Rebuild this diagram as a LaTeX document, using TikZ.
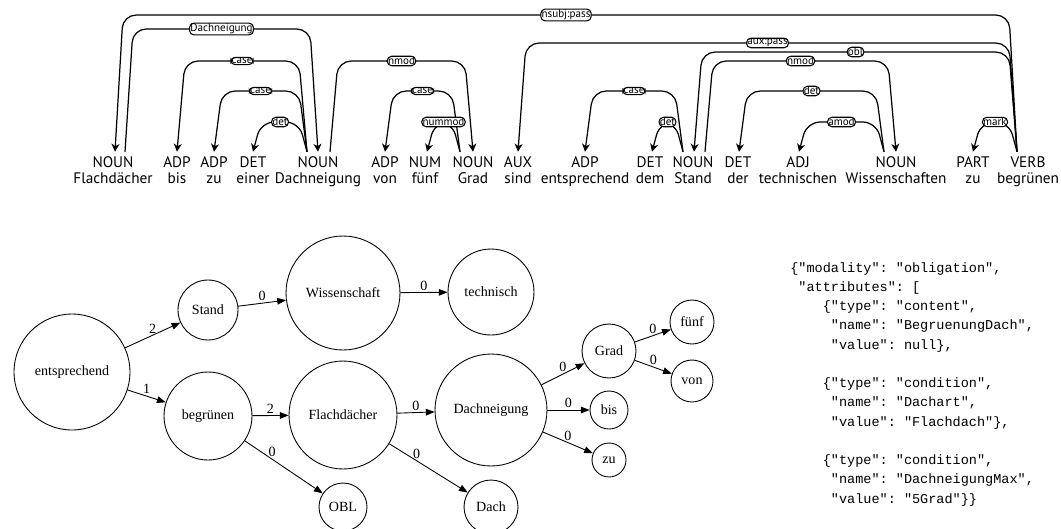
\documentclass[tikz,border=0pt]{standalone}
\usepackage{fontspec}
\setmainfont{Liberation Serif}
\setsansfont{PT Sans}
\setmonofont{Liberation Mono}
\usetikzlibrary{arrows.meta,calc}
\tikzset{
  postag/.style={anchor=base, inner sep=0pt, text height=6.2pt, text depth=0pt,
              font=\sffamily\fontsize{8.7}{9}\selectfont},
  wrd/.style={anchor=base, inner sep=0pt, font=\sffamily\fontsize{8.7}{9}\selectfont},
  dep/.style={line width=0.7pt, rounded corners=7.5pt,
              >={Stealth[length=4.5pt,width=4.5pt,inset=1.3pt]}},   % dependency arc
  lab/.style={draw, fill=white, rounded corners=2.5pt, inner sep=0.45pt, line width=0.6pt,
              font=\sffamily\fontsize{6.3}{6.5}\selectfont},
  gn/.style={circle, draw, line width=0.5pt, minimum size=#1, inner sep=0pt,
             font=\fontsize{8}{9}\selectfont},                      % graph node
  ge/.style={line width=0.5pt, -{Triangle[length=5pt,width=3.8pt]}},  % graph edge
  el/.style={font=\fontsize{8}{9}\selectfont, inner sep=1pt},
  json/.style={font=\ttfamily\fontsize{7.7}{10.95}\selectfont, align=left, inner sep=0pt},
}
% left node, dx, right node, dx, top, label, direction
\newcommand\deparc[7]{%
  \draw[dep,#7] let \p1=(#1.north), \p2=(#3.north), \p3=(0,#5) in
    ($(\p1)+(#2,-4)$) -- ($(\x1,\y3)+(#2+8,0)$) -- node[lab]{#6}
    ($(\x2,\y3)+(#4-8,0)$) -- ($(\p2)+(#4,-4)$);}

\begin{document}
\begin{tikzpicture}[x=0.02cm, y=-0.02cm]
  \useasboundingbox (0,0) rectangle (1061,528);
  % sentence
  \foreach \i/\xx/\t/\w in {1/113/NOUN/Flachdächer, 2/177/ADP/bis, 3/214/ADP/zu,
      4/253/DET/einer, 5/318/NOUN/Dachneigung, 6/385/ADP/von, 7/425/NUM/fünf,
      8/473/NOUN/Grad, 9/518/AUX/sind, 10/585/ADP/entsprechend, 11/650/DET/dem,
      12/693/NOUN/Stand, 13/738/DET/der, 14/798/ADJ/technischen,
      15/896/NOUN/Wissenschaften, 16/973/PART/zu, 17/1028/VERB/begrünen}{
    \node[postag] (p\i) at (\xx,167) {\t};
    \node[wrd] (w\i) at (\xx,183) {\w};
  }
  \deparc{p1}{2}{p17}{-11}{15}{nsubj:pass}{<-}
  \deparc{p1}{12}{p5}{0}{29}{Dachneigung}{->}
  \deparc{p2}{0}{p5}{-11}{61}{case}{<-}
  \deparc{p3}{0}{p5}{-11}{91}{case}{<-}
  \deparc{p4}{0}{p5}{-11}{122}{det}{<-}
  \deparc{p5}{12}{p8}{0}{61}{nmod}{->}
  \deparc{p6}{0}{p8}{-13}{91}{case}{<-}
  \deparc{p7}{2}{p8}{-13}{122}{nummod}{<-}
  \deparc{p9}{0}{p17}{-11}{43}{aux:pass}{<-}
  \deparc{p10}{0}{p12}{-10}{91}{case}{<-}
  \deparc{p11}{2}{p12}{-10}{122}{det}{<-}
  \deparc{p12}{1}{p17}{-11}{52}{obl}{<-}
  \deparc{p12}{12}{p15}{0}{61}{nmod}{->}
  \deparc{p13}{1}{p15}{-12}{91}{det}{<-}
  \deparc{p14}{1}{p15}{-12}{122}{amod}{<-}
  \deparc{p16}{0}{p17}{-11}{122}{mark}{<-}

  % graph
  \node[gn=2.32cm] (entspr) at (72,372)  {entsprechend};
  \node[gn=1.2cm]  (stand)  at (208,310) {Stand};
  \node[gn=1.76cm] (begr)   at (208,416) {begrünen};
  \node[gn=2.28cm] (wiss)   at (343,293) {Wissenschaft};
  \node[gn=1.72cm] (techn)  at (491,292) {technisch};
  \node[gn=2.16cm] (flach)  at (343,415) {Flachdächer};
  \node[gn=0.96cm] (obl)    at (343,507) {OBL};
  \node[gn=2.24cm] (dachn)  at (491,410) {Dachneigung};
  \node[gn=1.08cm] (dach)   at (491,507) {Dach};
  \node[gn=1.08cm] (grad)   at (609,351) {Grad};
  \node[gn=0.76cm] (bis)    at (609,410) {bis};
  \node[gn=0.68cm] (zu)     at (609,460) {zu};
  \node[gn=0.88cm] (fuenf)  at (692,322) {fünf};
  \node[gn=0.84cm] (von)    at (692,381) {von};
  \draw[ge] (entspr) -- node[el, above] {2} (stand);
  \draw[ge] (entspr) -- node[el, above] {1} (begr);
  \draw[ge] (stand) -- node[el, above] {0} (wiss);
  \draw[ge] (wiss) -- node[el, above] {0} (techn);
  \draw[ge] (begr) -- node[el, above] {2} (flach);
  \draw[ge] (begr) -- node[el, above, pos=0.35] {0} (obl);
  \draw[ge] (flach) -- node[el, above] {0} (dachn);
  \draw[ge] (flach) -- node[el, above, pos=0.35] {0} (dach);
  \draw[ge] (dachn) -- node[el, above] {0} (grad);
  \draw[ge] (dachn) -- node[el, above] {0} (bis);
  \draw[ge] (dachn) -- node[el, above] {0} (zu);
  \draw[ge] (grad) -- node[el, above] {0} (fuenf);
  \draw[ge] (grad) -- node[el, above] {0} (von);

  % frame as json
  \node[json, anchor=base west] (json) at (790,503) {%
    \{"modality": "obligation",\\
    \hspace*{0.6em}"attributes": [\\
    \hspace*{2.4em}\{"type": "content",\\
    \hspace*{3em}"name": "BegruenungDach",\\
    \hspace*{3em}"value": null\},\\
    \mbox{}\\
    \hspace*{2.4em}\{"type": "condition",\\
    \hspace*{3em}"name": "Dachart",\\
    \hspace*{3em}"value": "Flachdach"\},\\
    \mbox{}\\
    \hspace*{2.4em}\{"type": "condition",\\
    \hspace*{3em}"name": "DachneigungMax",\\
    \hspace*{3em}"value": "5Grad"\}\}};
\end{tikzpicture}
\end{document}
